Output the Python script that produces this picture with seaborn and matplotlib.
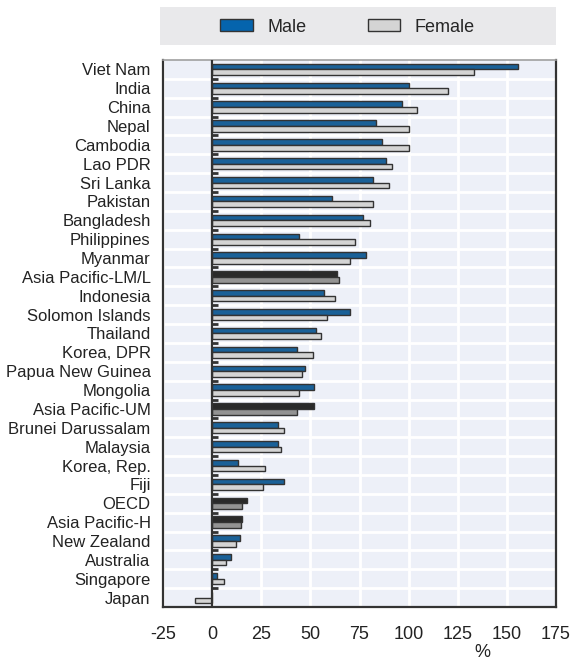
import pandas as pd
import numpy as np
import matplotlib
matplotlib.use('Agg')
import matplotlib.pyplot as plt
import matplotlib.patches as mpatches
import seaborn as sns

# Data (% change)
countries = ['Viet Nam', 'India', 'China', 'Nepal', 'Cambodia', 'Lao PDR', 'Sri Lanka',
             'Pakistan', 'Bangladesh', 'Philippines', 'Myanmar', 'Asia Pacific-LM/L',
             'Indonesia', 'Solomon Islands', 'Thailand', 'Korea, DPR', 'Papua New Guinea',
             'Mongolia', 'Asia Pacific-UM', 'Brunei Darussalam', 'Malaysia', 'Korea, Rep.',
             'Fiji', 'OECD', 'Asia Pacific-H', 'New Zealand', 'Australia', 'Singapore', 'Japan']
male = [155.6, 100.0, 96.7, 83.3, 86.4, 88.6, 81.8,
        61.2, 76.9, 44.0, 78.2, 63.4,
        56.8, 70.0, 53.1, 43.4, 47.3,
        52.0, 51.7, 33.3, 33.7, 13.3,
        36.7, 17.5, 15.1, 14.4, 9.8, 2.4, 0.0]
female = [133.3, 120.0, 104.4, 100.0, 100.0, 91.6, 90.0,
          81.8, 80.1, 72.6, 70.0, 64.6,
          62.6, 58.2, 55.3, 51.5, 45.7,
          44.4, 43.0, 36.4, 34.8, 26.9,
          25.8, 15.3, 14.8, 11.9, 7.1, 5.8, -8.5]
aggregates = ['Asia Pacific-LM/L', 'Asia Pacific-UM', 'OECD', 'Asia Pacific-H']

df = pd.DataFrame({'Country': countries * 2,
                   'Value': male + female,
                   'Sex': ['Male'] * len(countries) + ['Female'] * len(countries)})

male_col = '#0564ad'
female_col = '#d4d4d4'
agg_male_col = '#2a2a2a'
agg_female_col = '#939393'
edge = '#333333'
bg = '#edf0f8'

sns.set_style('white')
plt.rcParams['font.family'] = ['Liberation Sans', 'DejaVu Sans']

fig = plt.figure(figsize=(5.71, 6.63), dpi=100)
ax = fig.add_axes([0.2855, 0.0845, 0.6883, 0.825])
ax.set_facecolor(bg)

sns.barplot(data=df, y='Country', x='Value', hue='Sex', order=countries,
            hue_order=['Male', 'Female'], palette=[male_col, female_col],
            orient='h', width=0.6, gap=0, edgecolor=edge, linewidth=1,
            legend=False, ax=ax, zorder=3)

# aggregates get dark colours
for cont, col in zip(ax.containers, [agg_male_col, agg_female_col]):
    for name, bar in zip(countries, cont):
        if name in aggregates:
            bar.set_facecolor(col)

ax.set_xlim(-25, 175)
ax.set_ylim(len(countries) - 0.5, -0.5)
ax.set_xticks(np.arange(-25, 176, 25))
ax.set_xticklabels([str(v) for v in range(-25, 176, 25)])
ax.set_yticks(np.arange(0.5, len(countries) - 1, 1), minor=True)

# white grid
ax.grid(True, axis='x', color='white', linewidth=2, zorder=0)
ax.grid(True, axis='y', which='minor', color='white', linewidth=2, zorder=0)
ax.set_axisbelow(True)

# zero line with little stubs between categories
ax.axvline(0, color=edge, linewidth=1.6, zorder=4)
ax.hlines(np.arange(0.5, len(countries) - 1, 1), 0, 2.8, color=edge, linewidth=2, zorder=4)

ax.tick_params(axis='x', which='major', direction='in', length=5, width=1.5, color=edge,
               labelsize=13, pad=14, labelcolor='#222222')
ax.tick_params(axis='y', which='both', length=0, labelsize=12, pad=9, labelcolor='#222222')

for side in ['left', 'bottom', 'right']:
    ax.spines[side].set_color(edge)
    ax.spines[side].set_linewidth(1.6)
ax.spines['top'].set_color('#a0a0a0')
ax.spines['top'].set_linewidth(1.2)

ax.set_ylabel('')
ax.set_xlabel('%', fontsize=13, color='#222222')
ax.xaxis.set_label_coords(0.812, -0.068)

# legend band on top
fig.patches.append(mpatches.Rectangle((0.280, 0.932), 0.6935, 0.0573, transform=fig.transFigure,
                                      facecolor='#e9e9eb', edgecolor='none'))
handles = [mpatches.Patch(facecolor=male_col, edgecolor=edge, label='Male'),
           mpatches.Patch(facecolor=female_col, edgecolor=edge, label='Female')]
fig.legend(handles=handles, loc='center', bbox_to_anchor=(0.6086, 0.959), ncol=2,
           frameon=False, fontsize=13, handlelength=1.8, handleheight=0.65,
           columnspacing=3.4, handletextpad=0.8)

plt.savefig('out.png', dpi=100)
